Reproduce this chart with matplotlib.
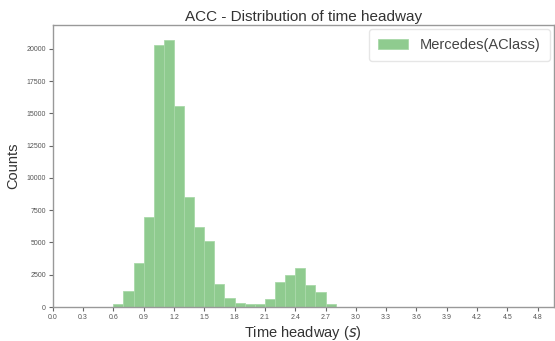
import matplotlib
matplotlib.use("Agg")
import matplotlib.pyplot as plt
import numpy as np

bin_left = [0.6, 0.7, 0.8, 0.9, 1.0, 1.1, 1.2, 1.3, 1.4, 1.5, 1.6, 1.7, 1.8, 1.9,
            2.0, 2.1, 2.2, 2.3, 2.4, 2.5, 2.6, 2.7]
counts = [260, 1240, 3440, 7000, 20330, 20720, 15590, 8550, 6220, 5130, 1810, 725,
          310, 200, 200, 650, 1940, 2460, 3060, 1740, 1165, 260]
bin_width = 0.1
xticks = [round(0.3 * i, 1) for i in range(17)]
yticks = [0, 2500, 5000, 7500, 10000, 12500, 15000, 17500, 20000]

plt.rcParams['font.family'] = ['Liberation Sans', 'DejaVu Sans']
fig = plt.figure(figsize=(5.55, 3.41), dpi=100)
ax = fig.add_axes([0.095, 0.0997, 0.903, 0.827])

ax.bar(bin_left, counts, width=bin_width, align='edge', color='#8fcb8f',
       edgecolor='#a9d9a9', linewidth=0.6, label='Mercedes(AClass)')

ax.set_xlim(0, 4.96)
ax.set_ylim(0, 21860)
ax.set_xticks(xticks)
ax.set_xticklabels([f"{t:.1f}" for t in xticks])
ax.set_yticks(yticks)
ax.tick_params(axis='both', labelsize=5, length=3, width=0.8, color='#666666',
               labelcolor='#555555', pad=2)
for s in ax.spines.values():
    s.set_color('#999999')
    s.set_linewidth(1.0)

ax.set_title('ACC - Distribution of time headway', fontsize=11, color='#333333', pad=3)
ax.set_xlabel('Time headway ($s$)', fontsize=10.5, color='#333333', labelpad=2)
ax.set_ylabel('Counts', fontsize=10.5, color='#333333', labelpad=4)
leg = ax.legend(loc='upper right', fontsize=10.5, frameon=True, borderpad=0.6,
                handlelength=2.1, handleheight=0.6, handletextpad=0.8,
                borderaxespad=0.3)
leg.get_frame().set_edgecolor('#e0e0e0')
for t in leg.get_texts():
    t.set_color('#444444')

fig.savefig('out.png', dpi=100)
